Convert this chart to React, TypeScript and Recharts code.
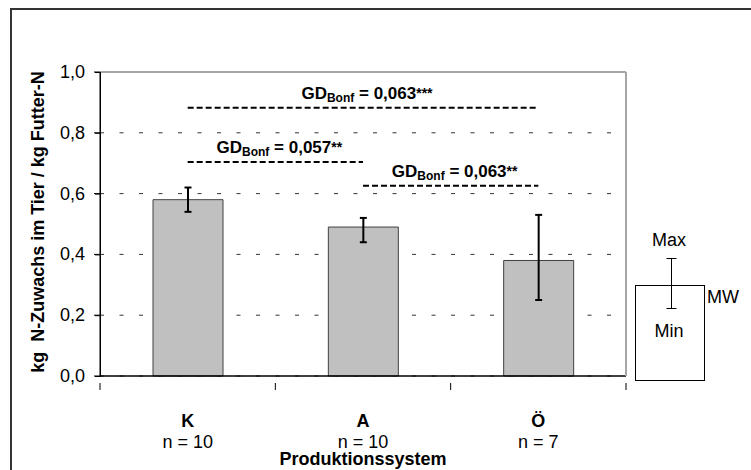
import { BarChart, Bar, XAxis, YAxis, CartesianGrid, ErrorBar, ReferenceLine } from "recharts";

// data
const categories = ["K", "A", "Ö"];
const sampleSizes = [10, 10, 7];
const means = [0.58, 0.49, 0.38];
const mins = [0.54, 0.44, 0.25];
const maxs = [0.62, 0.52, 0.53];
const yTicks = [0, 0.2, 0.4, 0.6, 0.8, 1.0];

// Bonferroni comparisons
const gdFrom = ["K", "K", "A"];
const gdTo = ["Ö", "A", "Ö"];
const gdLevel = [0.882, 0.704, 0.626];
const gdValue = ["0,063", "0,057", "0,063"];
const gdStars = ["***", "**", "**"];

const FONT = "'Liberation Sans', Arial, sans-serif";
const W = 751;
const H = 470;
const MARGIN = { top: 72, right: 124, bottom: 93, left: 0 };
const Y_AXIS_W = 100;
const PLOT_LEFT = MARGIN.left + Y_AXIS_W;
const PLOT_TOP = MARGIN.top;
const PLOT_BOTTOM = H - MARGIN.bottom - 1; // x axis is 1px high

const data = categories.map((c, i) => ({
  cat: c,
  n: sampleSizes[i],
  mean: means[i],
  err: [+(means[i] - mins[i]).toFixed(3), +(maxs[i] - means[i]).toFixed(3)],
}));

const fmt = (v: number) => v.toFixed(1).replace(".", ",");

// category label + n, with tick marks on the band edges
function CatTick(props: any) {
  const { x, y, payload, index, width, visibleTicksCount } = props;
  const half = payload.offset ?? width / (2 * (visibleTicksCount || categories.length));
  const last = index === categories.length - 1;
  return (
    <g fontFamily={FONT} fill="#000">
      <line x1={x - half} y1={y - 1} x2={x - half} y2={y + 6} stroke="#000" />
      {last && <line x1={x + half} y1={y - 1} x2={x + half} y2={y + 6} stroke="#000" />}
      <text x={x} y={y + 43} textAnchor="middle" fontSize={18} fontWeight="bold">{payload.value}</text>
      <text x={x} y={y + 64} textAnchor="middle" fontSize={18}>n = {sampleSizes[index]}</text>
    </g>
  );
}

// y tick label, pushed a little away from the axis
function ValTick(props: any) {
  const { x, y, payload } = props;
  return (
    <text x={x - 7} y={y} dy={6} textAnchor="end" fontFamily={FONT} fontSize={18} fill="#000">{fmt(payload.value)}</text>
  );
}

function GdLabel({ viewBox, value, stars }: any) {
  if (!viewBox) return null;
  const cx = viewBox.x + viewBox.width / 2 + 4;
  return (
    <text x={cx} y={viewBox.y - 9} textAnchor="middle" fontFamily={FONT} fontWeight="bold" fontSize={17} fill="#000">
      <tspan>GD</tspan>
      <tspan fontSize={12} dy={3}>Bonf</tspan>
      <tspan dy={-3}> = {value}</tspan>
      <tspan fontSize={14} dy={-1}>{stars}</tspan>
    </text>
  );
}

export default function App() {
  const yPos = (v: number) => PLOT_BOTTOM - v * (PLOT_BOTTOM - PLOT_TOP);
  return (
    <div style={{ position: "absolute", left: 0, top: 0, width: W, height: H, background: "#fff", overflow: "hidden" }}>
      <div style={{ position: "absolute", left: 10, top: 8, width: 800, height: 500, borderLeft: "2px solid #333", borderTop: "2px solid #333" }} />
      <div style={{ position: "absolute", left: 0, top: 0 }}>
        <BarChart width={W} height={H} data={data} margin={MARGIN} barSize={70}>
          <CartesianGrid vertical={false} strokeDasharray="4 15.5" stroke="#333" yAxisId="left" />
          <XAxis
            dataKey="cat"
            height={1}
            stroke="#000"
            tickLine={false}
            tick={<CatTick />}
            interval={0}
          />
          <YAxis
            yAxisId="left"
            domain={[0, 1]}
            ticks={yTicks}
            width={Y_AXIS_W}
            stroke="#000"
            tick={<ValTick />}
          />
          <YAxis
            yAxisId="frame"
            orientation="right"
            domain={[0, 1]}
            width={1}
            axisLine={{ stroke: "#a6a6a6", strokeWidth: 2 }}
            tickLine={false}
            tick={false}
          />
          <ReferenceLine yAxisId="left" y={1} stroke="#a6a6a6" strokeWidth={2} />
          <ReferenceLine yAxisId="left" y={0} stroke="#000" strokeWidth={1} />
          <Bar yAxisId="left" dataKey="mean" fill="#c0c0c0" stroke="#404040" strokeWidth={1} isAnimationActive={false}>
            <ErrorBar dataKey="err" width={3.5} stroke="#000" strokeWidth={2} direction="y" isAnimationActive={false} />
          </Bar>
          {gdFrom.map((f, i) => (
            <ReferenceLine
              key={i}
              yAxisId="left"
              segment={[{ x: f, y: gdLevel[i] }, { x: gdTo[i], y: gdLevel[i] }]}
              stroke="#000"
              strokeWidth={2}
              strokeDasharray="6 3"
              label={(p: any) => <GdLabel viewBox={p.viewBox} value={gdValue[i]} stars={gdStars[i]} />}
            />
          ))}
        </BarChart>
      </div>
      <svg width={W} height={H} style={{ position: "absolute", left: 0, top: 0, pointerEvents: "none" }} fontFamily={FONT}>
        {/* left axis line + outward ticks (recharts drops them here once the tick is customised) */}
        <line x1={PLOT_LEFT + 0.5} y1={PLOT_TOP} x2={PLOT_LEFT + 0.5} y2={PLOT_BOTTOM + 0.5} stroke="#000" />
        {yTicks.map((t) => (
          <line key={t} x1={PLOT_LEFT - 5} y1={yPos(t) + 0.5} x2={PLOT_LEFT + 0.5} y2={yPos(t) + 0.5} stroke="#000" />
        ))}
        <text x={44} y={222} transform="rotate(-90, 44, 222)" textAnchor="middle" fontSize={18} fontWeight="bold" fill="#000">
          {"kg\u00a0\u00a0N-Zuwachs im Tier / kg Futter-N"}
        </text>
        <text x={363} y={465} textAnchor="middle" fontSize={18} fontWeight="bold" fill="#000">Produktionssystem</text>
        {/* key: mean / min / max */}
        <rect x={635.5} y={285.5} width={69} height={95} fill="#fff" stroke="#000" strokeWidth={1} />
        <line x1={671.5} y1={258} x2={671.5} y2={308} stroke="#000" />
        <line x1={666.5} y1={258.5} x2={676.5} y2={258.5} stroke="#000" />
        <line x1={666.5} y1={308.5} x2={676.5} y2={308.5} stroke="#000" />
        <text x={669} y={246} textAnchor="middle" fontSize={18} fill="#000">Max</text>
        <text x={707} y={303} fontSize={18} fill="#000">MW</text>
        <text x={669} y={337} textAnchor="middle" fontSize={18} fill="#000">Min</text>
      </svg>
    </div>
  );
}
